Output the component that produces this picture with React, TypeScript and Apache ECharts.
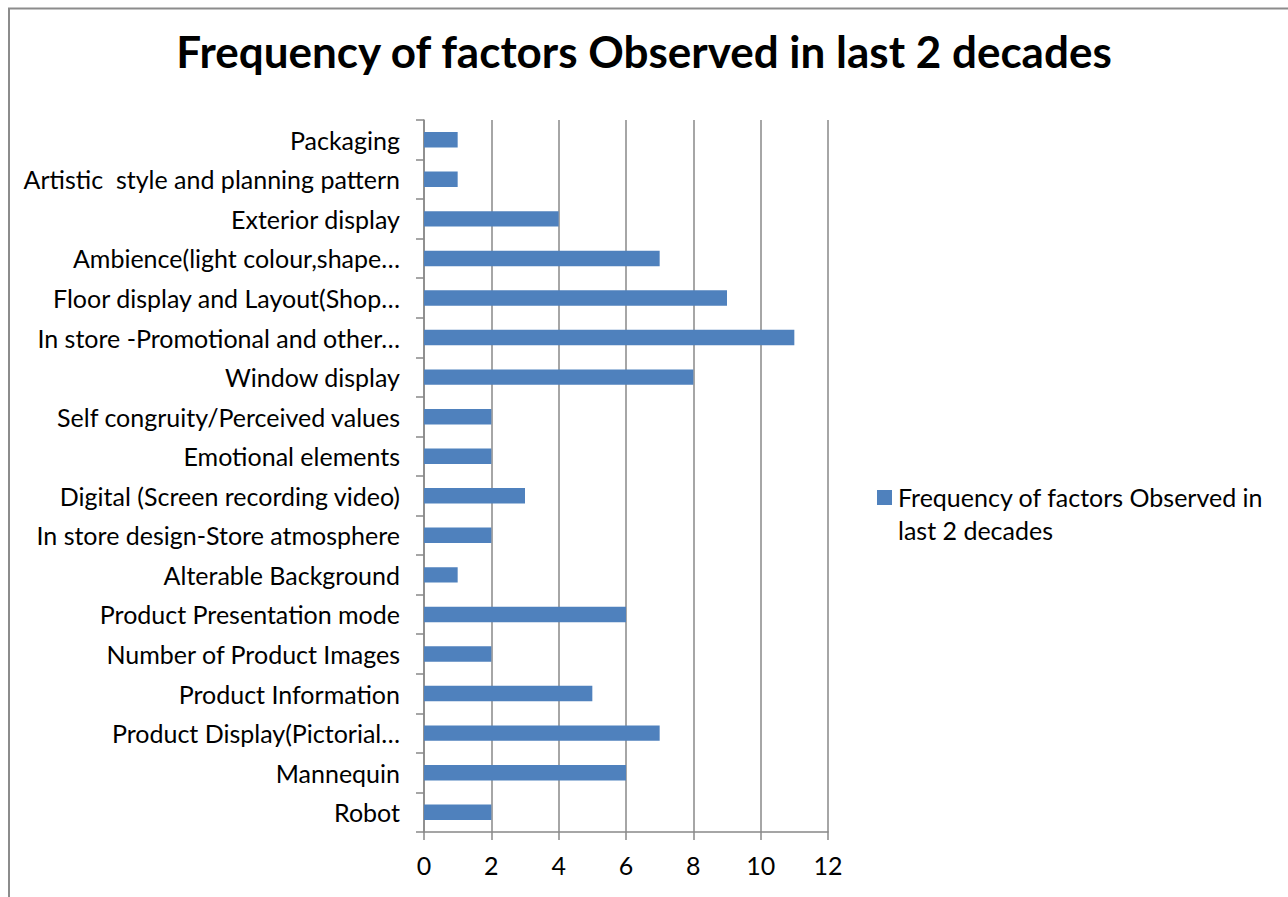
import React, { useEffect, useRef } from "react";
import * as echarts from "echarts";

const categories: string[] = [
  "Robot",
  "Mannequin",
  "Product Display(Pictorial…",
  "Product Information",
  "Number of Product Images",
  "Product Presentation mode",
  "Alterable Background",
  "In store design-Store atmosphere",
  "Digital (Screen recording video)",
  "Emotional elements",
  "Self congruity/Perceived values",
  "Window display",
  "In store -Promotional and other…",
  "Floor display and Layout(Shop…",
  "Ambience(light colour,shape…",
  "Exterior display",
  "Artistic  style and planning pattern",
  "Packaging",
];

const values: number[] = [2, 6, 7, 5, 2, 6, 1, 2, 3, 2, 2, 8, 11, 9, 7, 4, 1, 1];

const xTicks: number[] = [0, 2, 4, 6, 8, 10, 12];

const seriesName = "Frequency of factors Observed in last 2 decades";
const legendLines: string[] = ["Frequency of factors Observed in", "last 2 decades"];
const titleText = "Frequency of factors Observed in last 2 decades";

const FONT = "Lato";
const BAR_COLOR = "#4F81BD";

export default function App() {
  const ref = useRef<HTMLDivElement>(null);

  useEffect(() => {
    if (!ref.current) return;
    const chart = echarts.init(ref.current, undefined, { renderer: "svg" });
    chart.setOption({
      animation: false,
      backgroundColor: "#ffffff",
      title: {
        text: titleText,
        left: "center",
        top: 24,
        textStyle: {
          fontFamily: FONT,
          fontWeight: "bold",
          fontSize: 44,
          color: "#000000",
        },
      },
      graphic: [
        {
          type: "rect",
          shape: { x: 9, y: 8.5, width: 1400, height: 1000 },
          style: { fill: "none", stroke: "#8c8c8c", lineWidth: 2 },
          silent: true,
        },
        {
          type: "rect",
          shape: { x: 877, y: 490, width: 15, height: 15 },
          style: { fill: BAR_COLOR },
          silent: true,
        },
        {
          type: "text",
          x: 898,
          y: 497,
          style: {
            text: legendLines.join("\n"),
            fontFamily: FONT,
            fontSize: 25,
            lineHeight: 33,
            fill: "#000000",
            verticalAlign: "top",
          },
          top: 480,
          silent: true,
        },
      ],
      grid: {
        left: 424,
        right: 1288 - 828,
        top: 120,
        bottom: 897 - 832,
        containLabel: false,
      },
      xAxis: {
        type: "value",
        min: xTicks[0],
        max: xTicks[xTicks.length - 1],
        interval: 2,
        axisLine: { show: true, lineStyle: { color: "#888888", width: 1.5 } },
        axisTick: { show: true, length: 8, lineStyle: { color: "#888888", width: 1.5 } },
        splitLine: { show: true, lineStyle: { color: "#888888", width: 1.5 } },
        axisLabel: {
          fontFamily: FONT,
          fontSize: 25,
          color: "#000000",
          margin: 20,
        },
      },
      yAxis: {
        type: "category",
        data: categories,
        axisLine: { show: true, lineStyle: { color: "#888888", width: 1.5 } },
        axisTick: { show: true, length: 8, alignWithLabel: false, lineStyle: { color: "#888888", width: 1.5 } },
        axisLabel: {
          fontFamily: FONT,
          fontSize: 25,
          color: "#000000",
          margin: 24,
          interval: 0,
        },
        splitLine: { show: false },
      },
      series: [
        {
          name: seriesName,
          type: "bar",
          data: values,
          barCategoryGap: "61%",
          itemStyle: { color: BAR_COLOR },
        },
      ],
    });
    return () => chart.dispose();
  }, []);

  return (
    <div style={{ position: "fixed", left: 0, top: 0, width: 1288, height: 897, overflow: "hidden", background: "#fff" }}>
      <div ref={ref} style={{ position: "absolute", left: 0, top: 0, width: 1288, height: 897 }} />
    </div>
  );
}
